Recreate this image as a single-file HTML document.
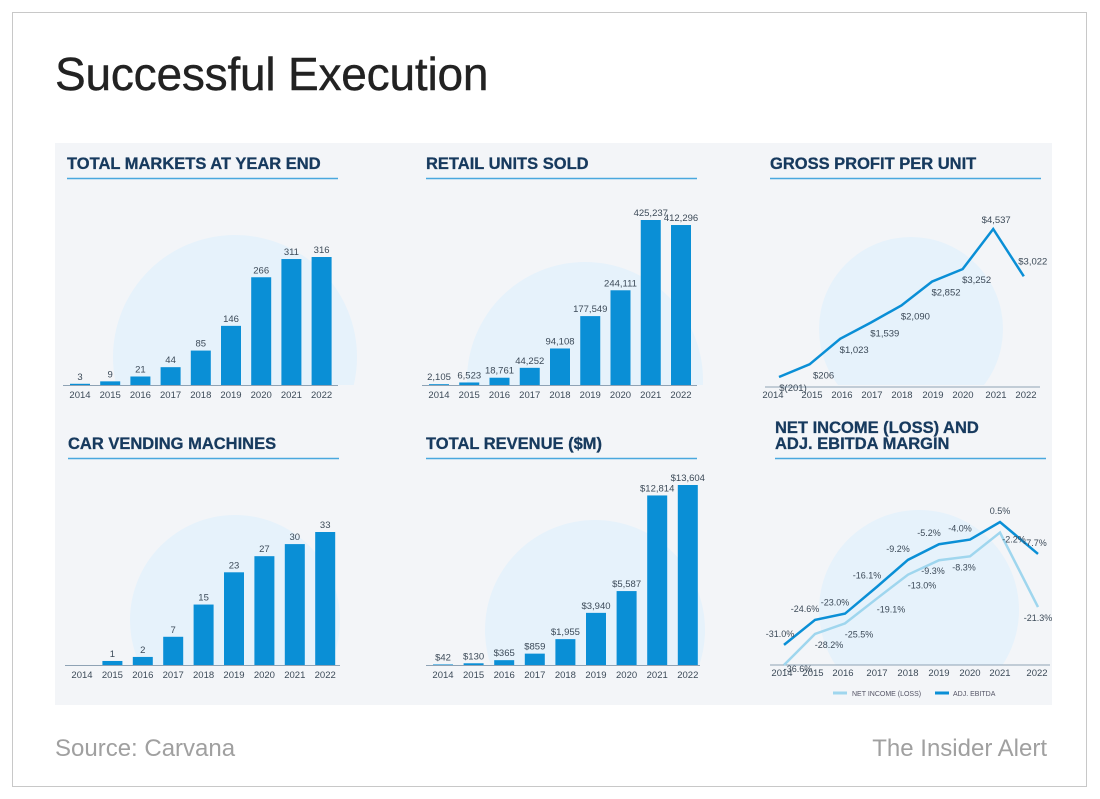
<!DOCTYPE html>
<html><head><meta charset="utf-8">
<style>
body{margin:0;width:1100px;height:799px;background:#fff;font-family:"Liberation Sans",sans-serif;overflow:hidden}
#frame{position:absolute;left:12px;top:12px;width:1075px;height:775px;border:1px solid #c8c8c8;box-sizing:border-box}
#title{position:absolute;left:55px;top:47px;font-size:46px;color:#222;letter-spacing:-0.2px;-webkit-text-stroke:0.4px #222}
#src{position:absolute;left:55px;top:735px;font-size:24px;color:#a0a0a0}
#brand{position:absolute;right:53px;top:735px;font-size:24px;color:#a0a0a0}
svg{position:absolute;left:0;top:0}
</style></head><body>
<div id="frame"></div>
<div id="title">Successful Execution</div>
<div id="src">Source: Carvana</div>
<div id="brand">The Insider Alert</div>
<svg id="s" width="1100" height="799">
<defs>
<clipPath id="ct"><rect x="55" y="143" width="997" height="242"/></clipPath>
<clipPath id="cb"><rect x="55" y="420" width="997" height="245"/></clipPath>
</defs>
<rect x="55" y="143" width="997" height="562" fill="#f3f5f8"/>
<g clip-path="url(#ct)" fill="#e6f2fb">
<circle cx="235" cy="357" r="122"/><circle cx="585" cy="380" r="118"/><circle cx="911" cy="329" r="92"/>
</g>
<g clip-path="url(#cb)" fill="#e6f2fb">
<circle cx="235" cy="620" r="105"/><circle cx="595" cy="630" r="110"/><circle cx="919" cy="610" r="100"/>
</g>
<g id="g"></g>
</svg>
<script>
const years=["2014","2015","2016","2017","2018","2019","2020","2021","2022"];
const marketsVals=[3,9,21,44,85,146,266,311,316];
const marketsLabels=["3","9","21","44","85","146","266","311","316"];
const retailVals=[2105,6523,18761,44252,94108,177549,244111,425237,412296];
const retailLabels=["2,105","6,523","18,761","44,252","94,108","177,549","244,111","425,237","412,296"];
const vendingVals=[0,1,2,7,15,23,27,30,33];
const vendingLabels=["","1","2","7","15","23","27","30","33"];
const revenueVals=[42,130,365,859,1955,3940,5587,12814,13604];
const revenueLabels=["$42","$130","$365","$859","$1,955","$3,940","$5,587","$12,814","$13,604"];
const gpuVals=[-201,206,1023,1539,2090,2852,3252,4537,3022];
const gpuLabels=["$(201)","$206","$1,023","$1,539","$2,090","$2,852","$3,252","$4,537","$3,022"];
const niVals=[-36.6,-28.2,-25.5,-19.1,-13.0,-9.3,-8.3,-2.2,-21.3];
const ebitdaVals=[-31.0,-24.6,-23.0,-16.1,-9.2,-5.2,-4.0,0.5,-7.7];

const NS="http://www.w3.org/2000/svg",G=document.getElementById('g');
function el(t,a,txt){const e=document.createElementNS(NS,t);for(const k in a)e.setAttribute(k,a[k]);if(txt!==undefined)e.textContent=txt;G.appendChild(e);return e;}
function heading(x,y,lines,w,name){
  lines.forEach((l,i)=>{const t=el('text',{x:x,y:y+i*16,'font-size':16.5,'font-weight':'bold',fill:'#173a5e','stroke':'#173a5e','stroke-width':0.3},l);
  
  });
  const uy=y+9.5+(lines.length-1)*16;
  const u=el('line',{x1:x,x2:x+w,y1:uy,y2:uy,stroke:'#4aa8de','stroke-width':1.5});
  
  
}
function bars(id,x0,step,base,h,vals,labels,x1){
  const max=Math.max(...vals);
  const xs=i=>x0+i*step, ys=v=>base-v/max*h;
  const ax=el('line',{x1:x0-17,x2:x1,y1:base+0.5,y2:base+0.5,stroke:'#8fa3b5','stroke-width':1});
  
  
  vals.forEach((v,i)=>{
    const y=ys(v);
    const r=el('rect',{x:xs(i)-10,y:y,width:20,height:base-y,fill:'#0a8fd6'});
    
    
    const t=el('text',{x:xs(i),y:y-4,'font-size':9.5,'text-anchor':'middle',fill:'#3c4a58'},labels[i]);
    
    
    const yl=el('text',{x:xs(i),y:base+13,'font-size':9.5,'text-anchor':'middle',fill:'#3c4a58'},years[i]);
    
    
  });
}
heading(67,169,["TOTAL MARKETS AT YEAR END"],271,'markets-title');
bars('markets',80,30.2,385,128,marketsVals,marketsLabels,338);
heading(426,169,["RETAIL UNITS SOLD"],271,'retail-title');
bars('retail',439,30.25,385,165,retailVals,retailLabels,697);
heading(68,449,["CAR VENDING MACHINES"],271,'vending-title');
bars('vending',82,30.4,665,133,vendingVals,vendingLabels,340);
heading(426,449,["TOTAL REVENUE ($M)"],271,'revenue-title');
bars('revenue',443,30.6,665,180,revenueVals,revenueLabels,700);

// gross profit per unit
heading(770,169,["GROSS PROFIT PER UNIT"],271,'gpu-title');
(function(){
  const xs=i=>779+i*30.6, ys=v=>377-(v+201)/4738*148;
  const yearX=[773,812,842,872,902,933,963,996,1026];
  const ax=el('line',{x1:765,x2:1040,y1:387,y2:387,stroke:'#8fa3b5'});
  
  
  years.forEach((y,i)=>{const t=el('text',{x:yearX[i],y:398,'font-size':9.5,'text-anchor':'middle',fill:'#3c4a58'},y);
    
    });
  const p=el('polyline',{points:gpuVals.map((v,i)=>xs(i)+','+ys(v)).join(' '),fill:'none',stroke:'#0a8fd6','stroke-width':2.5});
  
  
  gpuVals.forEach((v,i)=>{
    const above=(i===7||i===8);
    const t=el('text',{x:xs(i)+(above?(i===8?9:3):14),y:ys(v)+(above?(i===8?-12:-6):14),'font-size':9.5,'text-anchor':'middle',fill:'#3c4a58'},gpuLabels[i]);
    
    
  });
})();

// net income / ebitda
heading(775,433,["NET INCOME (LOSS) AND","ADJ. EBITDA MARGIN"],271,'margin-title');
(function(){
  const xs=i=>[784,815,845,877,908,939,970,1000,1038][i], ys=v=>522-(v-0.5)*3.9;
  const yearX=[782,813,843,877,908,939,970,1000,1037];
  const ax=el('line',{x1:770,x2:1050,y1:665,y2:665,stroke:'#8fa3b5'});
  
  
  years.forEach((y,i)=>{const t=el('text',{x:yearX[i],y:676,'font-size':9.5,'text-anchor':'middle',fill:'#3c4a58'},y);
    
    });
  const p1=el('polyline',{points:niVals.map((v,i)=>xs(i)+','+Math.min(ys(v),665)).join(' '),fill:'none',stroke:'#9fd6ee','stroke-width':2.5});
  
  
  const p2=el('polyline',{points:ebitdaVals.map((v,i)=>xs(i)+','+ys(v)).join(' '),fill:'none',stroke:'#0a8fd6','stroke-width':2.5});
  
  
  ebitdaVals.forEach((v,i)=>{
    const t=el('text',{x:xs(i)-(i===8?3:i===0?4:i===7?0:10),y:ys(v)-8,'font-size':9,'text-anchor':'middle',fill:'#3c4a58'},v.toFixed(1)+'%');
    
    
  });
  niVals.forEach((v,i)=>{
    const t=el('text',{x:xs(i)+(i===8?0:i>=5&&i<=6?-6:14),y:Math.min(ys(v),665)+(i===7?10:14)-(i===0?7:0),'font-size':9,'text-anchor':'middle',fill:'#3c4a58'},v.toFixed(1)+'%');
    
    
  });
  const l1=el('line',{x1:833,x2:847,y1:693,y2:693,stroke:'#9fd6ee','stroke-width':3});
  
  
  const t1=el('text',{x:852,y:696,'font-size':7,fill:'#556'},'NET INCOME (LOSS)');
  
  
  const l2=el('line',{x1:935,x2:949,y1:693,y2:693,stroke:'#0a8fd6','stroke-width':3});
  
  
  const t2=el('text',{x:953,y:696,'font-size':7,fill:'#556'},'ADJ. EBITDA');
  
  
})();
</script>
</body></html>
